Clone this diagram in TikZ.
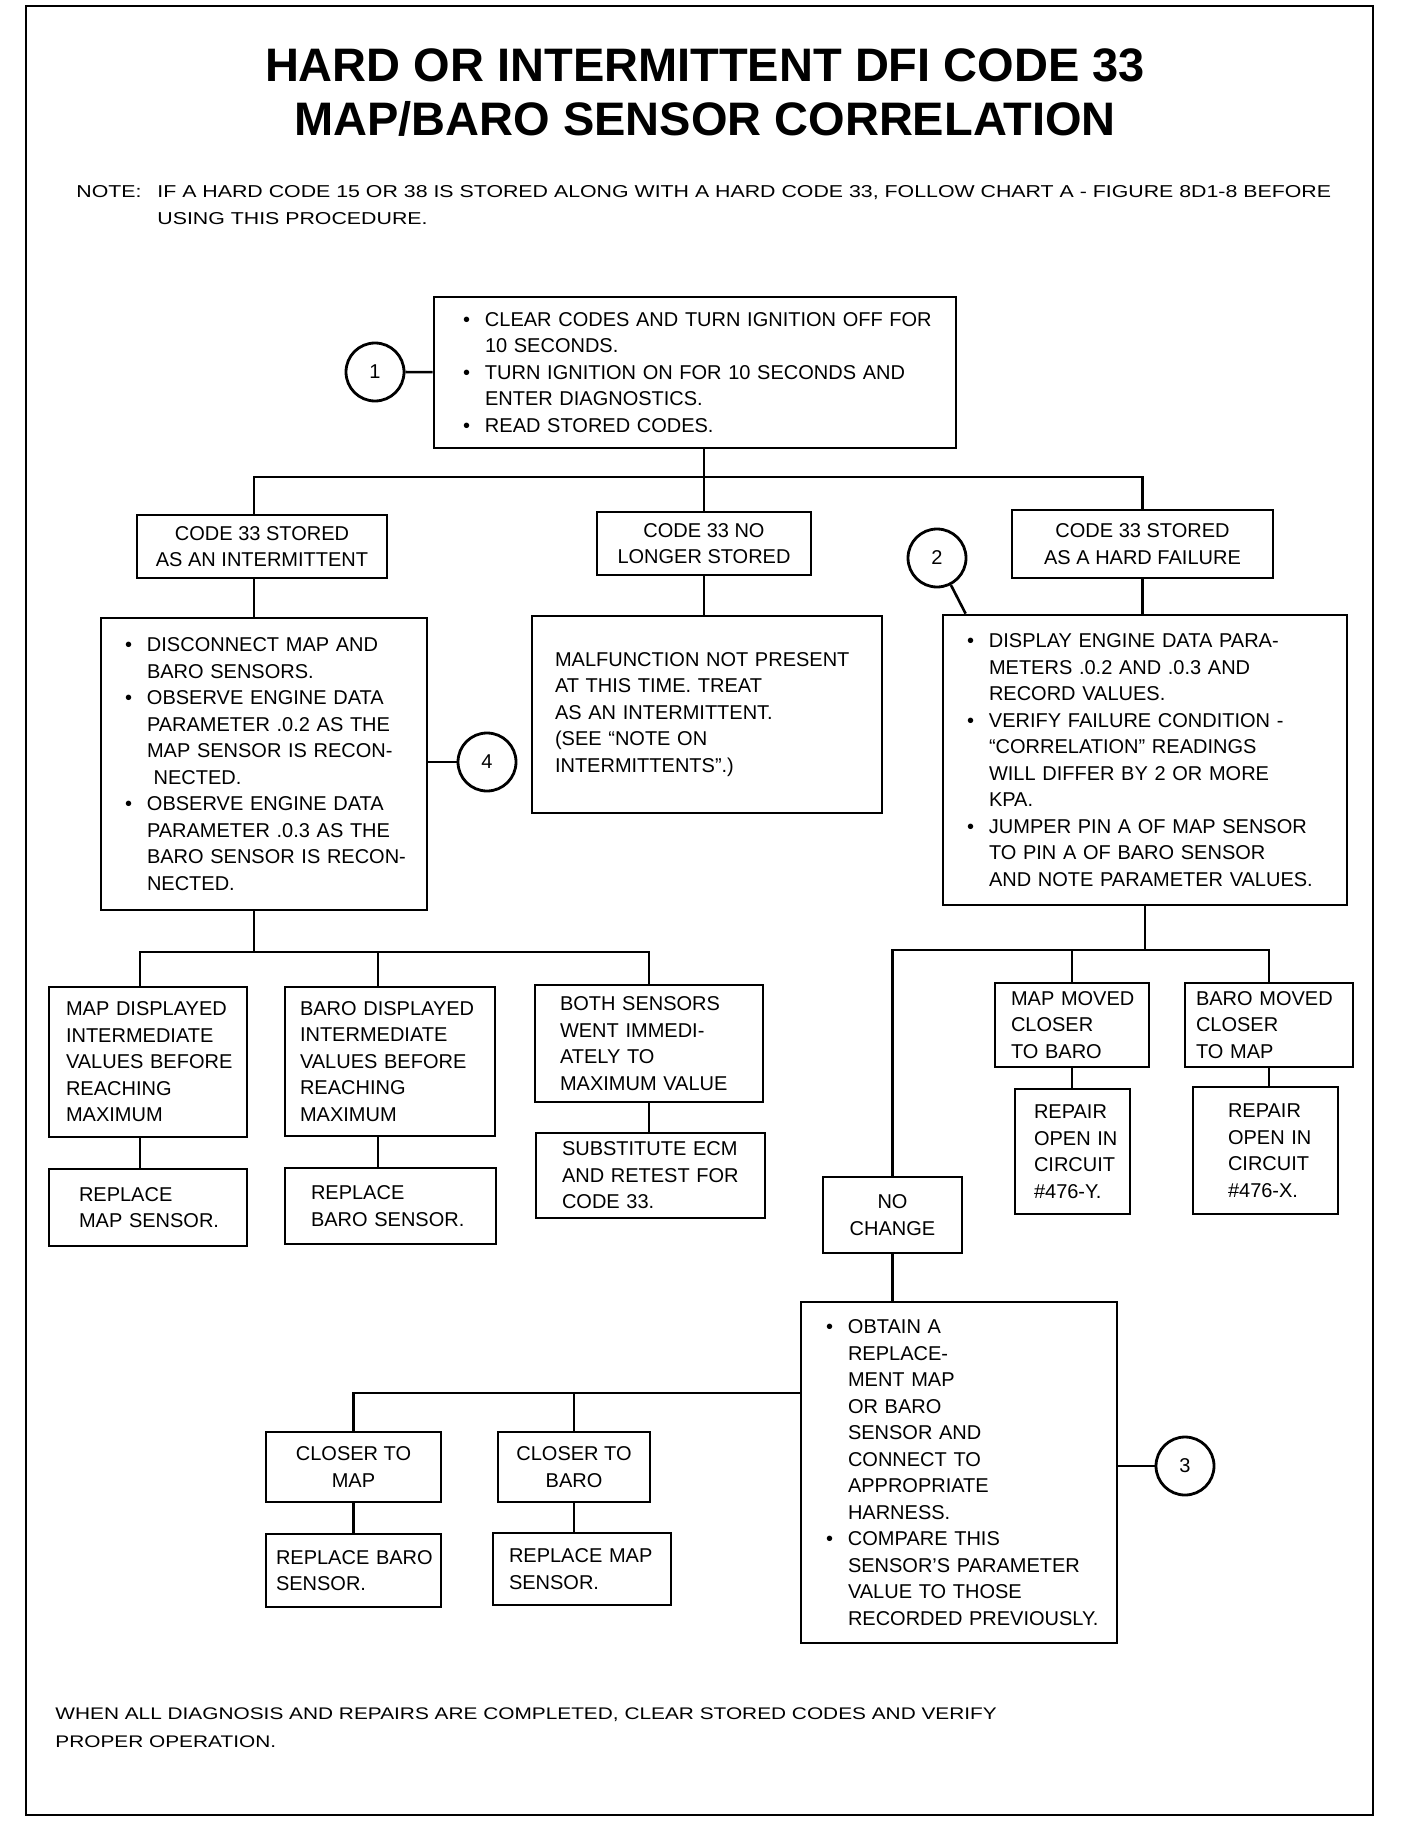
\documentclass[tikz,border=0pt]{standalone}
\usepackage{fontspec}
\setmainfont{Liberation Sans}
\newfontfamily\notefont{Liberation Sans}[FakeStretch=1.24]
\usetikzlibrary{calc}
\newcommand{\boxfont}{\fontsize{10}{13.25}\selectfont}
\newcommand{\bul}{\makebox[11pt][l]{\textbullet}}
\newcommand{\ind}{\hspace*{11pt}}

\begin{document}
\begin{tikzpicture}[x=0.5pt,y=-0.5pt,
  box/.style={draw,line width=1.4pt,inner sep=0pt,font=\boxfont,align=left},
  cbox/.style={box,align=center},
  pad/.style={execute at begin node={\leftskip=#1\relax}},
  num/.style={circle,draw,line width=1.4pt,minimum size=29pt,inner sep=0pt,font=\boxfont},
  link/.style={line width=1.3pt}]
  \useasboundingbox (0,0) rectangle (1408,1824);
  % frame
  \draw[line width=1.3pt] (26,6) rectangle (1373,1815);

  % heading and note
  \node[font=\fontsize{23.5}{27}\selectfont\bfseries,align=center] (title) at (705,93)
    {HARD OR INTERMITTENT DFI CODE 33\\MAP/BARO SENSOR CORRELATION};
  \node[font=\notefont\fontsize{8.6}{13.5}\selectfont,align=left,anchor=west,inner sep=0pt] (note) at (76,205.5)
    {\makebox[40.5pt][l]{NOTE:}IF A HARD CODE 15 OR 38 IS STORED ALONG WITH A HARD CODE 33, FOLLOW CHART A - FIGURE 8D1-8 BEFORE\\
     \hspace*{40.5pt}USING THIS PROCEDURE.};

  % top step
  \node[box,pad=14.5pt,minimum width=261pt,minimum height=75.5pt,text width=261pt] (b1) at (695,372.5)
    {\bul CLEAR CODES AND TURN IGNITION OFF FOR\\\ind 10 SECONDS.\\
     \bul TURN IGNITION ON FOR 10 SECONDS AND\\\ind ENTER DIAGNOSTICS.\\
     \bul READ STORED CODES.};
  \node[num] (c1) at (375,372) {1};

  % three results
  \node[cbox,minimum width=125pt,minimum height=31.5pt] (bA) at (262,546.5)
    {CODE 33 STORED\\AS AN INTERMITTENT};
  \node[cbox,minimum width=107pt,minimum height=31.5pt] (bB) at (704,543.5)
    {CODE 33 NO\\LONGER STORED};
  \node[cbox,minimum width=130.5pt,minimum height=34pt] (bC) at (1142.5,544)
    {CODE 33 STORED\\AS A HARD FAILURE};
  \node[num] (c2) at (937,558) {2};

  \node[box,pad=12pt,minimum width=163pt,minimum height=146pt,text width=163pt] (bA2) at (264,764)
    {\bul DISCONNECT MAP AND\\\ind BARO SENSORS.\\
     \bul OBSERVE ENGINE DATA\\\ind PARAMETER .0.2 AS THE\\\ind MAP SENSOR IS RECON-\\\ind\ NECTED.\\
     \bul OBSERVE ENGINE DATA\\\ind PARAMETER .0.3 AS THE\\\ind BARO SENSOR IS RECON-\\\ind NECTED.};
  \node[num] (c4) at (487,762) {4};
  \node[box,pad=11.5pt,minimum width=175pt,minimum height=98.5pt,text width=175pt] (bB2) at (707,714.5)
    {MALFUNCTION NOT PRESENT\\AT THIS TIME. TREAT\\AS AN INTERMITTENT.\\(SEE ``NOTE ON\\INTERMITTENTS''.)};
  \node[box,pad=12pt,minimum width=202pt,minimum height=145pt,text width=202pt] (bD) at (1145,760)
    {\bul DISPLAY ENGINE DATA PARA-\\\ind METERS .0.2 AND .0.3 AND\\\ind RECORD VALUES.\\
     \bul VERIFY FAILURE CONDITION -\\\ind ``CORRELATION'' READINGS\\\ind WILL DIFFER BY 2 OR MORE\\\ind KPA.\\
     \bul JUMPER PIN A OF MAP SENSOR\\\ind TO PIN A OF BARO SENSOR\\\ind AND NOTE PARAMETER VALUES.};

  % intermittent branch
  \node[box,pad=8.5pt,minimum width=99pt,minimum height=75pt,text width=99pt] (bA3) at (148,1062)
    {MAP DISPLAYED\\INTERMEDIATE\\VALUES BEFORE\\REACHING\\MAXIMUM};
  \node[box,pad=7.5pt,minimum width=105pt,minimum height=74.5pt,text width=105pt] (bA4) at (390,1061.5)
    {BARO DISPLAYED\\INTERMEDIATE\\VALUES BEFORE\\REACHING\\MAXIMUM};
  \node[box,pad=12.5pt,minimum width=114pt,minimum height=58.5pt,text width=114pt] (bA5) at (649,1043.5)
    {BOTH SENSORS\\WENT IMMEDI-\\ATELY TO\\MAXIMUM VALUE};
  \node[box,pad=15pt,minimum width=99pt,minimum height=38.5pt,text width=99pt] (bA6) at (148,1207.5)
    {REPLACE\\MAP SENSOR.};
  \node[box,pad=13pt,minimum width=105.5pt,minimum height=38pt,text width=105.5pt] (bA7) at (390.5,1206)
    {REPLACE\\BARO SENSOR.};
  \node[box,pad=13pt,minimum width=114.5pt,minimum height=42.5pt,text width=114.5pt] (bA8) at (650.5,1175.5)
    {SUBSTITUTE ECM\\AND RETEST FOR\\CODE 33.};

  % hard failure branch
  \node[box,pad=8pt,minimum width=77pt,minimum height=42pt,text width=77pt] (bE1) at (1072,1025)
    {MAP MOVED\\CLOSER\\TO BARO};
  \node[box,pad=5.5pt,minimum width=84pt,minimum height=42pt,text width=84pt] (bE2) at (1269,1025)
    {BARO MOVED\\CLOSER\\TO MAP};
  \node[box,pad=9.5pt,minimum width=57.5pt,minimum height=62.5pt,text width=57.5pt] (bE3) at (1072.5,1151.5)
    {REPAIR\\OPEN IN\\CIRCUIT\\\#476-Y.};
  \node[box,pad=17.5pt,minimum width=72.5pt,minimum height=63.5pt,text width=72.5pt] (bE4) at (1265.5,1150.5)
    {REPAIR\\OPEN IN\\CIRCUIT\\\#476-X.};
  \node[cbox,minimum width=69.5pt,minimum height=38pt] (bNC) at (892.5,1215)
    {NO\\CHANGE};
  \node[box,pad=12.5pt,minimum width=158pt,minimum height=170.5pt,text width=158pt] (bF) at (959,1472.5)
    {\bul OBTAIN A\\\ind REPLACE-\\\ind MENT MAP\\\ind OR BARO\\\ind SENSOR AND\\\ind CONNECT TO\\\ind APPROPRIATE\\\ind HARNESS.\\
     \bul COMPARE THIS\\\ind SENSOR'S PARAMETER\\\ind VALUE TO THOSE\\\ind RECORDED PREVIOUSLY.};
  \node[num] (c3) at (1185,1466) {3};
  \node[cbox,minimum width=87.5pt,minimum height=35pt] (bG1) at (353.5,1467)
    {CLOSER TO\\MAP};
  \node[cbox,minimum width=76pt,minimum height=35pt] (bG2) at (574,1467)
    {CLOSER TO\\BARO};
  \node[box,pad=5pt,minimum width=87.5pt,minimum height=36.5pt,text width=87.5pt] (bG3) at (353.5,1570.5)
    {REPLACE BARO\\SENSOR.};
  \node[box,pad=8pt,minimum width=89pt,minimum height=36pt,text width=89pt] (bG4) at (582,1569)
    {REPLACE MAP\\SENSOR.};

  % closing remark
  \node[font=\notefont\fontsize{8.4}{14}\selectfont,align=left,anchor=west,inner sep=0pt] (foot) at (55,1728)
    {WHEN ALL DIAGNOSIS AND REPAIRS ARE COMPLETED, CLEAR STORED CODES AND VERIFY\\PROPER OPERATION.};

  % connectors
  \coordinate (t1) at (0,477);
  \coordinate (t2) at (0,952);
  \coordinate (t3) at (0,950);
  \coordinate (t4) at (0,1393);
  \coordinate (jA) at ([xshift=-4pt]bA.south);
  \coordinate (jA3) at ([xshift=-4pt]bA3.north);
  \coordinate (jA4) at ([xshift=-6pt]bA4.north);
  \draw[link] (c1) -- (b1);
  \draw[link] (bB.north |- b1.south) -- (bB.north);
  \draw[link] (jA |- bA.north) -- (jA |- t1) -- (bC.north |- t1) -- (bC.north);
  \draw[link] (jA) -- (jA |- bA2.north);
  \draw[link] (bA2.east |- c4) -- (c4);
  \draw[link] (bB.south) -- (bB.south |- bB2.north);
  \draw[link] (bC.south) -- (bC.south |- bD.north);
  \draw[link] (c2) -- ([xshift=12pt]bD.north west);
  \draw[link] (jA |- bA2.south) -- (jA |- t2);
  \draw[link] (jA3) -- (jA3 |- t2) -- (bA5.north |- t2) -- (bA5.north);
  \draw[link] (jA4) -- (jA4 |- t2);
  \draw[link] (jA3 |- bA3.south) -- (jA3 |- bA6.north);
  \draw[link] (jA4 |- bA4.south) -- (jA4 |- bA7.north);
  \draw[link] (bA5.south) -- (bA5.south |- bA8.north);
  \draw[link] (bD.south) -- (bD.south |- t3);
  \draw[link] (bNC.north) -- (bNC.north |- t3) -- (bE2.north |- t3) -- (bE2.north);
  \draw[link] (bE1.north) -- (bE1.north |- t3);
  \draw[link] (bE1.south) -- (bE1.south |- bE3.north);
  \draw[link] (bE2.south) -- (bE2.south |- bE4.north);
  \draw[link] (bNC.south) -- (bNC.south |- bF.north);
  \draw[link] (bF.west |- t4) -- (bG1.north |- t4) -- (bG1.north);
  \draw[link] (bG2.north) -- (bG2.north |- t4);
  \draw[link] (bG1.south) -- (bG1.south |- bG3.north);
  \draw[link] (bG2.south) -- (bG2.south |- bG4.north);
  \draw[link] (bF.east |- c3) -- (c3);
\end{tikzpicture}
\end{document}
